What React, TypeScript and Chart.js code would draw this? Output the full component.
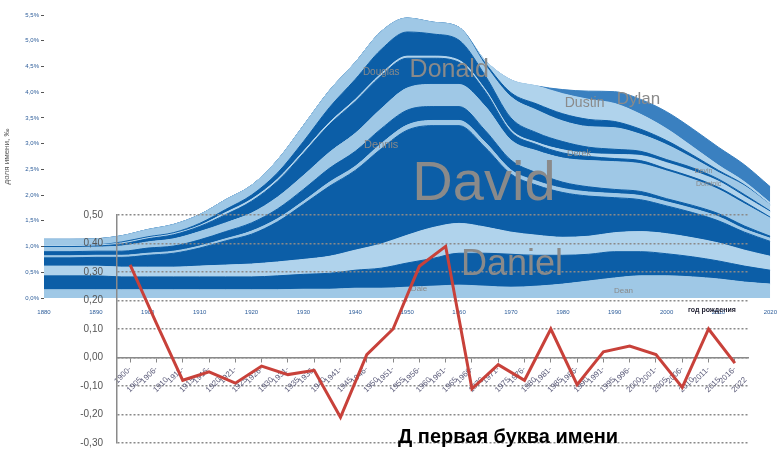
import React, { useEffect, useRef } from 'react';
import { Chart, registerables } from 'chart.js';

Chart.register(...registerables);

// ---------- background stacked area (names starting with D), values in ‰ ----------
const years = [1880, 1885, 1890, 1895, 1900, 1905, 1910, 1915, 1920, 1925, 1930, 1935, 1940, 1945, 1950, 1955, 1960, 1965, 1970, 1975, 1980, 1985, 1990, 1995, 2000, 2005, 2010, 2015, 2020];

const dale = [1.6, 1.6, 1.6, 1.6, 1.6, 1.6, 1.6, 1.6, 1.6, 1.6, 1.7, 1.7, 1.9, 1.9, 2.1, 2.3, 2.5, 2.3, 2.1, 2.3, 2.7, 3.3, 3.9, 4.3, 4.3, 4.1, 3.7, 3.1, 2.7];
const daniel = [2.7, 2.7, 2.7, 2.5, 2.5, 2.5, 2.5, 2.5, 2.5, 2.7, 2.9, 3.1, 3.5, 3.9, 4.7, 5.4, 6.2, 6.4, 6.4, 6.0, 5.6, 5.2, 5.1, 4.7, 4.3, 3.9, 3.5, 3.1, 2.7];
const dean = [1.9, 1.9, 1.9, 1.9, 1.9, 1.9, 2.1, 2.3, 2.5, 2.7, 2.9, 3.3, 3.9, 4.7, 5.4, 6.0, 5.8, 5.1, 4.3, 3.9, 3.5, 3.5, 3.7, 3.9, 3.9, 3.7, 3.5, 3.1, 2.7];
const david = [1.6, 1.6, 1.7, 1.9, 2.3, 2.7, 3.5, 4.7, 5.8, 7.8, 10.7, 13.6, 15.5, 18.5, 20.4, 19.8, 19.0, 15.5, 11.3, 9.7, 8.7, 7.8, 6.8, 6.2, 5.4, 4.9, 4.3, 3.5, 2.9];
const darrell = [0.4, 0.4, 0.4, 0.4, 0.4, 0.4, 0.4, 0.4, 0.6, 0.6, 0.6, 0.8, 0.8, 1.0, 1.0, 1.0, 1.0, 1.0, 0.8, 0.8, 0.8, 0.8, 0.8, 0.8, 0.8, 0.8, 0.8, 0.6, 0.6];
const dennis = [0.8, 0.8, 0.8, 0.8, 1.0, 1.0, 1.2, 1.4, 1.6, 1.9, 2.3, 2.7, 2.9, 2.9, 2.9, 2.7, 2.7, 2.3, 1.9, 1.6, 1.2, 1.0, 0.8, 0.8, 0.6, 0.6, 0.6, 0.6, 0.4];
const danny = [0.8, 0.8, 0.8, 1.0, 1.2, 1.4, 1.6, 1.7, 1.9, 2.3, 2.7, 3.1, 3.5, 3.9, 4.3, 4.3, 4.3, 4.7, 3.9, 4.3, 4.7, 5.1, 5.4, 5.4, 5.4, 5.1, 4.7, 4.3, 3.5];
const donald = [0.2, 0.2, 0.2, 0.4, 0.6, 0.8, 1.0, 1.6, 2.3, 3.1, 4.3, 5.4, 6.2, 6.4, 5.8, 5.1, 4.3, 2.9, 1.6, 1.2, 1.0, 0.8, 0.6, 0.6, 0.4, 0.4, 0.4, 0.4, 0.2];
const dwight = [0.2, 0.2, 0.2, 0.2, 0.2, 0.2, 0.2, 0.4, 0.4, 0.4, 0.4, 0.4, 0.4, 0.4, 0.4, 0.4, 0.4, 0.4, 0.4, 0.4, 0.6, 0.6, 0.8, 1.0, 1.2, 1.2, 1.2, 1.0, 1.0];
const douglas = [0, 0, 0, 0.2, 0.2, 0.2, 0.4, 0.6, 0.8, 1.2, 1.9, 2.9, 3.9, 4.7, 4.7, 4.3, 3.9, 2.7, 2.3, 1.9, 1.6, 1.2, 1.0, 0.8, 0.6, 0.6, 0.4, 0.4, 0.2];
const duane = [1.2, 1.2, 1.2, 1.2, 1.4, 1.6, 1.7, 1.9, 1.9, 2.5, 3.1, 3.3, 3.3, 3.5, 2.7, 2.3, 2.5, 2.0, 4.1, 4.4, 4.0, 4.0, 4.2, 3.3, 2.9, 1.9, 1.3, 1.7, 1.2];
const dustin = [0, 0, 0, 0, 0, 0, 0, 0, 0, 0, 0, 0, 0, 0, 0, 0, 0, 0.4, 0.8, 1.2, 1.4, 1.4, 1.2, 1.0, 0.8, 0.6, 0.4, 0.2, 0];
const derek = [0, 0, 0, 0, 0, 0, 0, 0, 0, 0, 0, 0, 0, 0, 0, 0, 0, 0.5, 2.5, 3.5, 3.9, 3.9, 3.5, 2.9, 2.3, 1.6, 1.0, 0.6, 0.4];
const dylan = [0, 0, 0, 0, 0, 0, 0, 0, 0, 0, 0, 0, 0, 0, 0, 0, 0, 0, 0, 0, 0.8, 1.6, 2.3, 2.9, 3.3, 3.5, 3.5, 3.3, 3.1];

const bandNames = ['Dale', 'Daniel', 'Dean', 'David', 'Darrell', 'Dennis', 'Danny', 'Donald', 'Dwight', 'Douglas', 'Duane', 'Dustin', 'Derek', 'Dylan'];
const bandValues = [dale, daniel, dean, david, darrell, dennis, danny, donald, dwight, douglas, duane, dustin, derek, dylan];

// name labels placed in data coordinates (year, ‰)
const streamNames = ['David', 'Daniel', 'Donald', 'Douglas', 'Dennis', 'Dustin', 'Dylan', 'Derek', 'Devin', 'Dominic', 'Dale', 'Dean'];
const streamYears = [1964.8, 1970.2, 1958.1, 1945.0, 1945.0, 1984.2, 1994.6, 1983.1, 2007.1, 2008.1, 1952.3, 1991.7];
const streamLevels = [19.0, 4.5, 43.0, 43.3, 29.2, 37.1, 37.7, 27.6, 24.3, 21.8, 1.4, 1.0];

// ---------- foreground line: change per period ----------
const periods = ['1900-1905', '1906-1910', '1911-1915', '1916-1920', '1921-1925', '1926-1930', '1931-1935', '1936-1940', '1941-1945', '1946-1950', '1951-1955', '1956-1960', '1961-1965', '1966-1970', '1971-1975', '1976-1980', '1981-1985', '1986-1990', '1991-1995', '1996-2000', '2001-2005', '2006-2010', '2011-2015', '2016-2022'];
const deltas = [0.325, 0.12, -0.08, -0.05, -0.09, -0.03, -0.06, -0.045, -0.21, 0.01, 0.10, 0.32, 0.39, -0.11, -0.025, -0.08, 0.10, -0.095, 0.02, 0.04, 0.01, -0.105, 0.10, -0.02];

const yTitle = 'доля имени, ‰';
const xTitle = 'год рождения';
const chartTitle = 'Д первая буква имени';

// styles
const DARK = '#0c5ea7';
const LIGHT = '#9fc8e6';
const LIGHT2 = '#b0d3ec';
const MEDIUM = '#3a80c0';
const bandColors = [LIGHT, DARK, LIGHT2, DARK, LIGHT, DARK, LIGHT, DARK, LIGHT2, DARK, LIGHT, DARK, LIGHT2, MEDIUM];
const streamSizes = [56, 36, 25, 10, 11, 14, 17, 9, 7, 7, 8, 8];
const FONT = '"Liberation Sans", Arial, sans-serif';

const streamLabelPlugin = {
  id: 'streamLabels',
  afterDatasetsDraw(chart: any) {
    const { ctx, scales } = chart;
    ctx.save();
    ctx.fillStyle = '#8a8a8a';
    ctx.textAlign = 'center';
    ctx.textBaseline = 'alphabetic';
    streamNames.forEach((n, i) => {
      ctx.font = `${streamSizes[i]}px ${FONT}`;
      ctx.fillText(n, scales.x.getPixelForValue(streamYears[i]), scales.y.getPixelForValue(streamLevels[i]));
    });
    ctx.restore();
  },
};

const fmt = (v: number) => (Math.round(v * 100) / 100).toFixed(2).replace('.', ',');

export default function App() {
  const bgRef = useRef<HTMLCanvasElement>(null);
  const fgRef = useRef<HTMLCanvasElement>(null);

  useEffect(() => {
    document.body.style.margin = '0';
    const bg = new Chart(bgRef.current as HTMLCanvasElement, {
      type: 'line',
      data: {
        datasets: bandValues.map((vals, i) => ({
          label: bandNames[i],
          data: vals.map((v, j) => ({ x: years[j], y: v })),
          fill: i === 0 ? 'origin' : '-1',
          backgroundColor: bandColors[i],
          borderColor: bandColors[i],
          borderWidth: 1,
          pointRadius: 0,
          cubicInterpolationMode: 'monotone',
        })),
      },
      options: {
        animation: false,
        responsive: false,
        layout: { padding: { left: 0, top: 15, right: 8, bottom: 0 } },
        plugins: { legend: { display: false }, tooltip: { enabled: false } },
        scales: {
          x: {
            type: 'linear',
            min: 1880,
            max: 2020,
            ticks: {
              stepSize: 10,
              font: { size: 6, family: FONT },
              color: '#2d5d9a',
              padding: 3,
              maxRotation: 0,
              callback: (v: any) => String(v),
            },
            grid: { display: false },
            border: { display: false },
            afterFit: (s: any) => { s.height = 165; },
          },
          y: {
            stacked: true,
            min: 0,
            max: 55,
            ticks: {
              stepSize: 5,
              font: { size: 6, family: FONT },
              color: '#2d5d9a',
              padding: 2,
              callback: (v: any) => (Number(v) / 10).toFixed(1).replace('.', ',') + '%',
            },
            grid: { drawOnChartArea: false, drawTicks: true, tickLength: 3, color: '#555' },
            border: { display: false },
            title: { display: true, text: yTitle, font: { size: 8, family: FONT }, color: '#555', padding: 2 },
            afterFit: (s: any) => { s.width = 44; },
          },
        },
      },
      plugins: [streamLabelPlugin],
    } as any);

    const fg = new Chart(fgRef.current as HTMLCanvasElement, {
      type: 'line',
      data: {
        labels: periods.map((p) => {
          const [a, b] = p.split('-');
          return [a + '-', b];
        }),
        datasets: [{
          data: deltas,
          borderColor: '#c8413a',
          borderWidth: 3,
          pointRadius: 0,
          tension: 0,
          fill: false,
        }],
      },
      options: {
        animation: false,
        responsive: false,
        layout: { padding: { left: 0, top: 12, right: 32, bottom: 2 } },
        plugins: { legend: { display: false }, tooltip: { enabled: false } },
        scales: {
          x: {
            position: { y: 0 },
            offset: true,
            ticks: {
              autoSkip: false,
              maxRotation: 45,
              minRotation: 45,
              font: { size: 8, family: FONT, lineHeight: 1.9 },
              color: '#5c5c7a',
              padding: 1,
            },
            grid: { drawOnChartArea: false, drawTicks: true, tickLength: 4, color: '#888' },
            border: { color: '#8a8a8a', width: 1.5, dash: [2, 2] },
            afterFit: (s: any) => { s.height = 0; },
          },
          y: {
            min: -0.3,
            max: 0.5,
            ticks: {
              stepSize: 0.1,
              callback: (v: any) => fmt(Number(v)),
              font: { size: 10, family: FONT },
              color: '#555',
              padding: 14,
            },
            grid: { color: '#8a8a8a', lineWidth: 1.5, drawTicks: false },
            border: { color: '#8a8a8a', width: 1.5, dash: [2, 2] },
            afterFit: (s: any) => { s.width = 77; },
          },
        },
      },
    } as any);

    return () => {
      bg.destroy();
      fg.destroy();
    };
  }, []);

  return (
    <div style={{ position: 'fixed', left: 0, top: 0, width: 780, height: 463, background: '#fff', overflow: 'hidden' }}>
      <canvas ref={bgRef} width={780} height={463} style={{ position: 'absolute', left: 0, top: 0, display: 'block' }} />
      <canvas ref={fgRef} width={740} height={268} style={{ position: 'absolute', left: 40, top: 195, display: 'block' }} />
      <div style={{ position: 'absolute', left: 688, top: 305, fontFamily: FONT, fontSize: 7, fontWeight: 'bold', color: '#223', whiteSpace: 'nowrap', lineHeight: '9px' }}>{xTitle}</div>
      <div style={{ position: 'absolute', left: 398, top: 426, fontFamily: FONT, fontSize: 20, fontWeight: 'bold', color: '#000', whiteSpace: 'nowrap', lineHeight: '20px' }}>{chartTitle}</div>
    </div>
  );
}
